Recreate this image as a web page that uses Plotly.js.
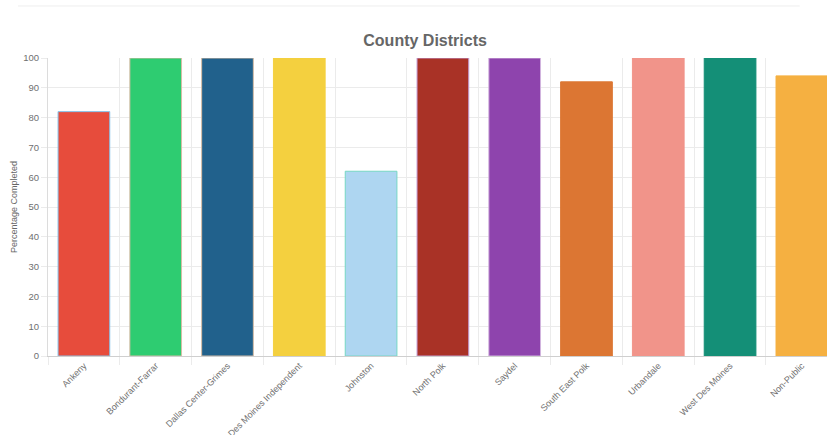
<!DOCTYPE html>
<html>
<head>
<meta charset="utf-8">
<script src="https://cdn.plot.ly/plotly-3.0.1.min.js"></script>
<style>html,body{margin:0;padding:0;background:#fff;}#chart{width:827px;height:435px;}</style>
</head>
<body>
<div id="chart"></div>
<script>
const districts = ["Ankeny", "Bondurant-Farrar", "Dallas Center-Grimes", "Des Moines Independent", "Johnston", "North Polk", "Saydel", "South East Polk", "Urbandale", "West Des Moines", "Non-Public"];
const percentCompleted = [82, 100, 100, 100, 62, 100, 100, 92, 100, 100, 94];
const barColors = ["#e74c3c", "#2ecc71", "#21618c", "#f4d03f", "#aed6f1", "#a93226", "#8e44ad", "#dc7633", "#f1948a", "#148f77", "#f5b041"];
const borderColors = ["#85c1e9", "#d7bda5", "#d7bda5", "#f4d03f", "#76d7c4", "#c39bd3", "#d2b4de", "#dc7633", "#f1948a", "#148f77", "#f5b041"];

const trace = {
  type: "bar",
  x: districts,
  y: percentCompleted,
  marker: { color: barColors, line: { color: borderColors, width: 1 } },
  hoverinfo: "x+y"
};

const gridColor = "#ebebeb";
const layout = {
  width: 827,
  height: 435,
  margin: { l: 48, r: 0, t: 58, b: 79 },
  paper_bgcolor: "#fff",
  plot_bgcolor: "#fff",
  showlegend: false,
  bargap: 0.28,
  font: { family: "Liberation Sans, Arial, sans-serif", color: "#666" },
  title: {
    text: "<b>County Districts</b>",
    font: { size: 16, color: "#666", family: "Liberation Sans, Arial, sans-serif" },
    xref: "container", x: 0.514, xanchor: "center",
    yref: "container", y: 0.908, yanchor: "middle"
  },
  xaxis: {
    type: "category",
    range: [-0.5, 10.35],
    tickson: "boundaries",
    showgrid: true,
    gridcolor: gridColor,
    ticks: "outside",
    ticklen: 8,
    tickcolor: gridColor,
    tickangle: -45,
    tickfont: { size: 9, color: "#707070" },
    showline: true,
    linecolor: "#cfcfcf",
    linewidth: 1,
    zeroline: false,
    fixedrange: true
  },
  yaxis: {
    range: [0, 100],
    dtick: 10,
    showgrid: true,
    gridcolor: gridColor,
    ticks: "outside",
    ticklen: 6,
    tickcolor: gridColor,
    tickfont: { size: 9.5, color: "#707070" },
    showline: true,
    linecolor: "#dcdcdc",
    zeroline: false,
    title: { text: "Percentage Completed", font: { size: 9, color: "#666" }, standoff: 4 },
    fixedrange: true
  },
  shapes: [{
    type: "line", xref: "paper", yref: "paper",
    x0: -0.0385, x1: 0.965, y0: 1.1745, y1: 1.1745,
    line: { color: "#eeeeee", width: 1 }
  }]
};

Plotly.newPlot("chart", [trace], layout, { displayModeBar: false, staticPlot: true });
</script>
</body>
</html>
